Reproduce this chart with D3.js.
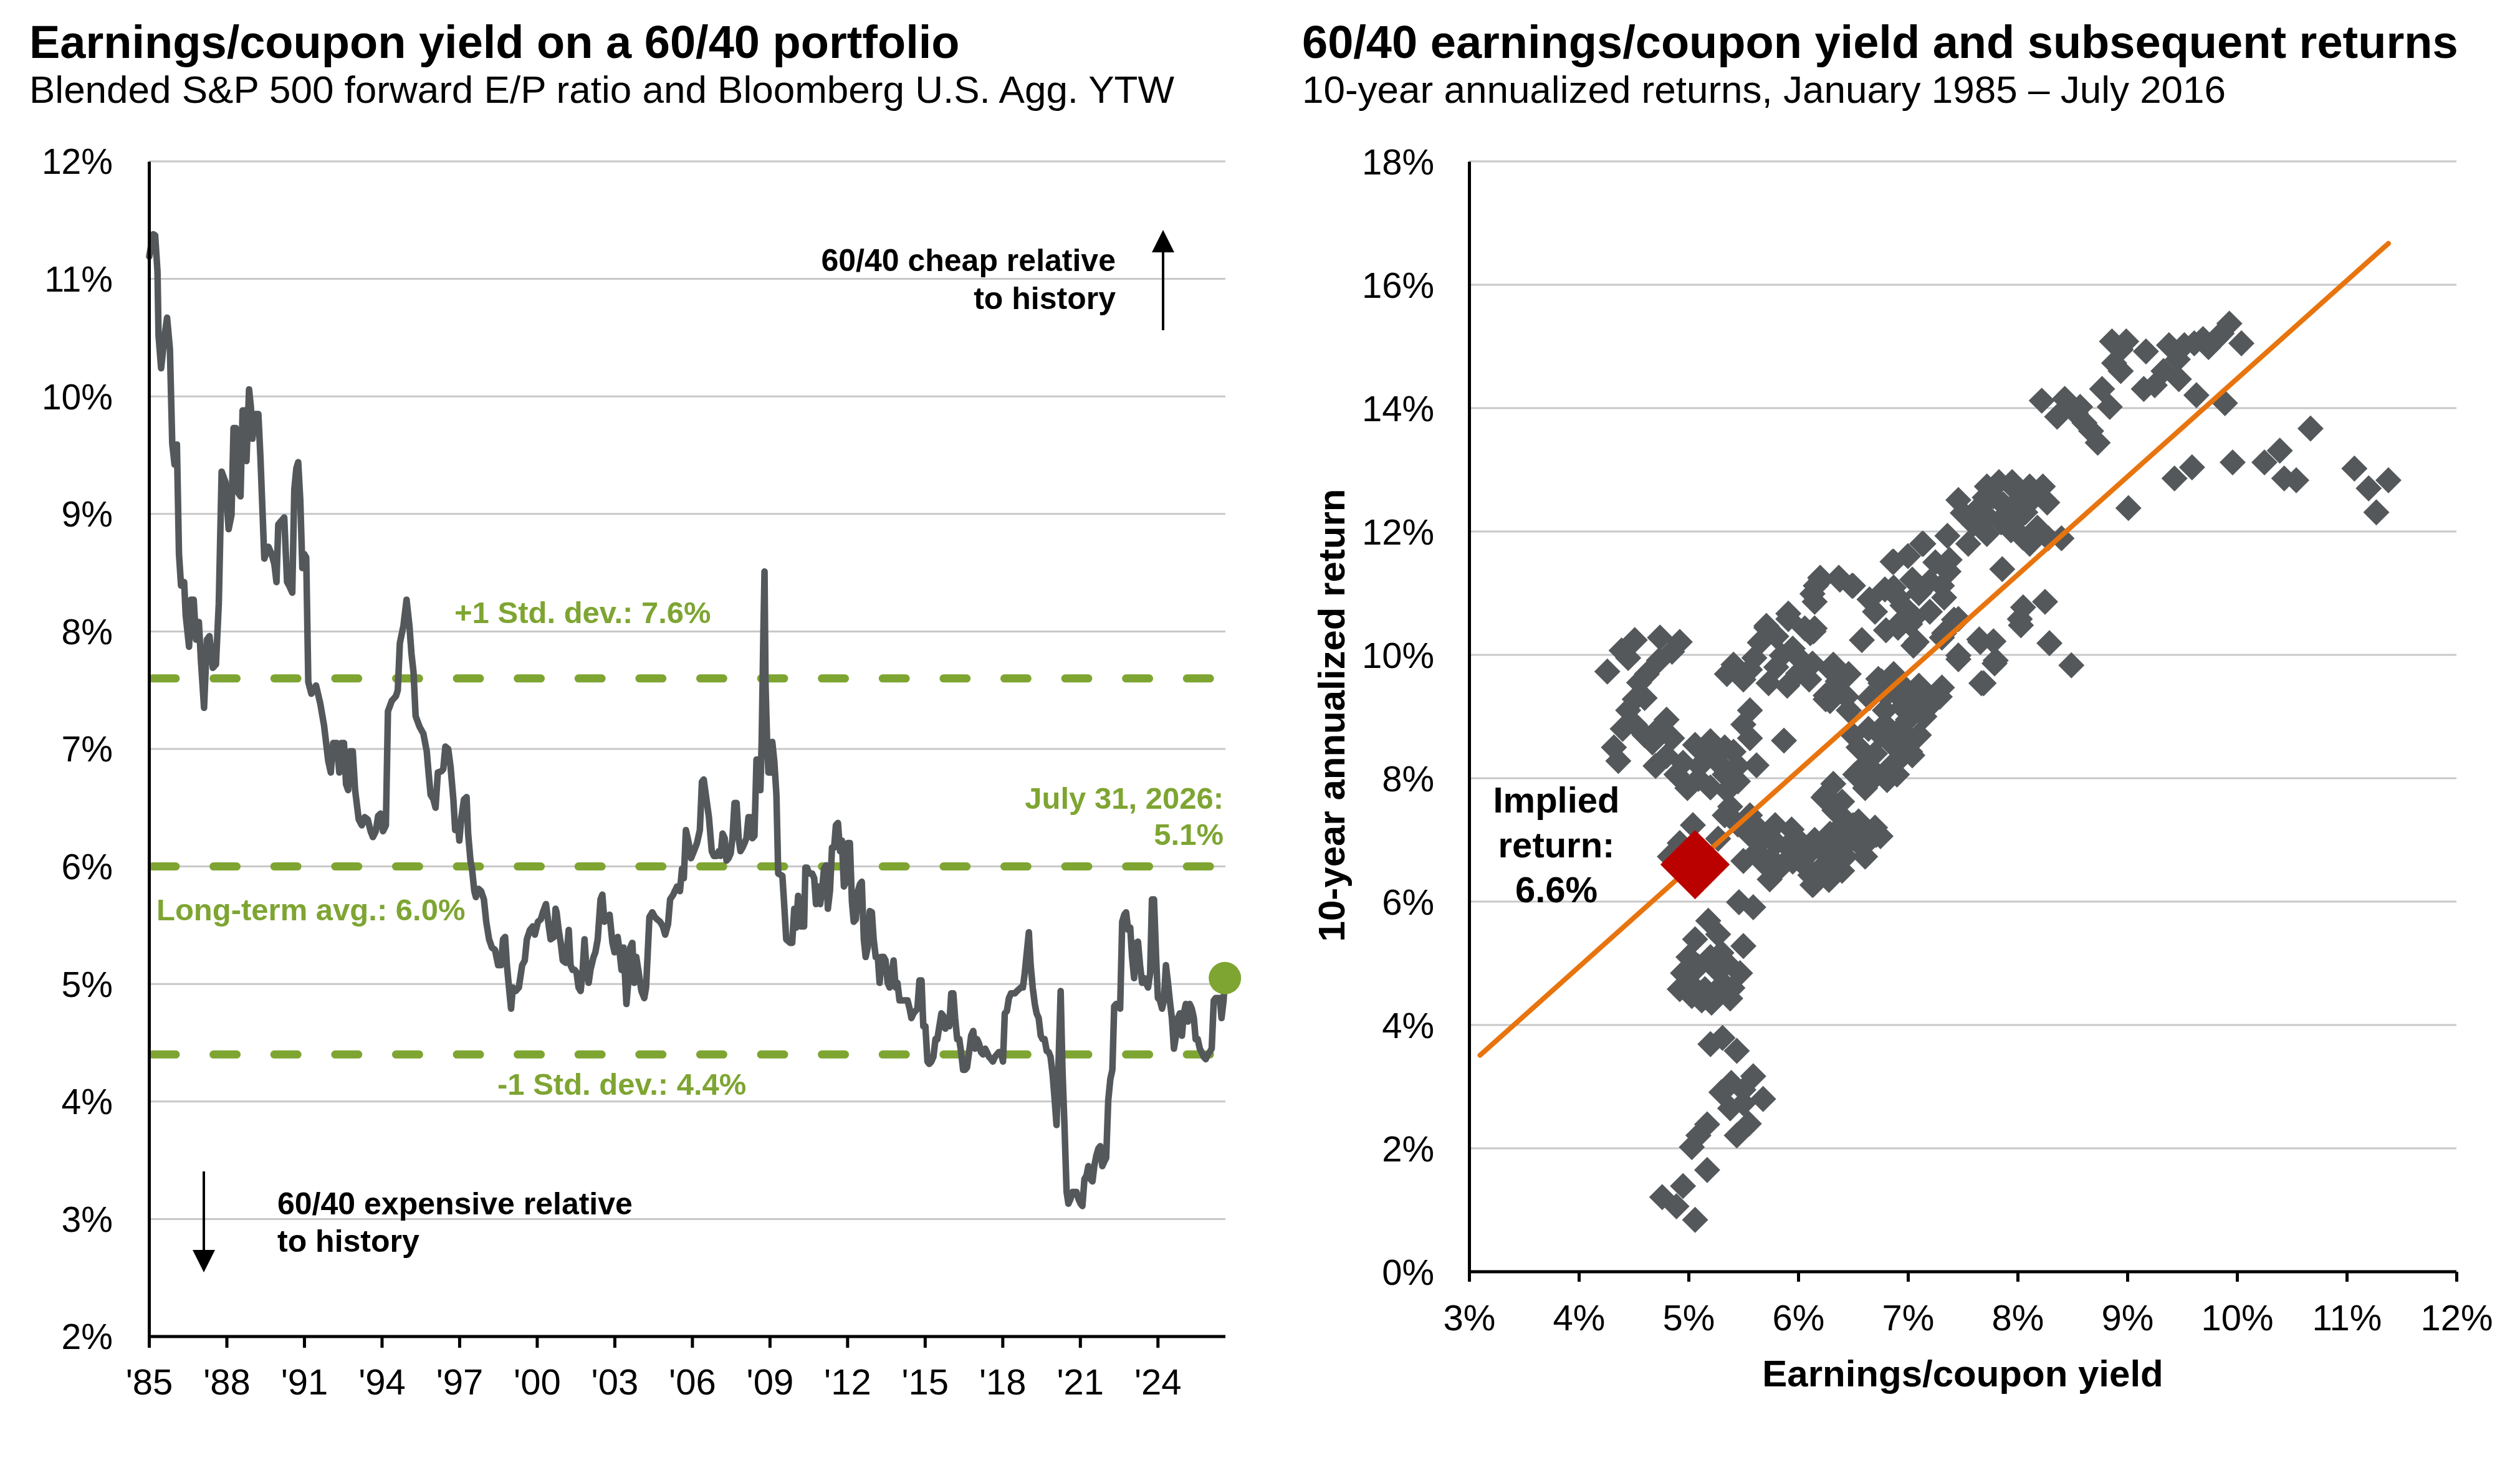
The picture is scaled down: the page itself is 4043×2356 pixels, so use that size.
<!DOCTYPE html>
<html><head><meta charset="utf-8">
<script src="https://cdn.jsdelivr.net/npm/d3@7"></script>
<style>
html,body{margin:0;padding:0;background:#fff;}
svg{display:block;}
text{font-family:"Liberation Sans",Arial,Helvetica,sans-serif;}
</style></head><body>
<svg id="chart" width="4043" height="2356"></svg>
<script>
// ---------------- DATA ----------------
const leftTitle = "Earnings/coupon yield on a 60/40 portfolio";
const leftSubtitle = "Blended S&P 500 forward E/P ratio and Bloomberg U.S. Agg. YTW";
const rightTitle = "60/40 earnings/coupon yield and subsequent returns";
const rightSubtitle = "10-year annualized returns, January 1985 \u2013 July 2016";

const leftYTicks = [2,3,4,5,6,7,8,9,10,11,12];
const leftXTicks = [1985,1988,1991,1994,1997,2000,2003,2006,2009,2012,2015,2018,2021,2024];
const rightXTicks = [3,4,5,6,7,8,9,10,11,12];
const rightYTicks = [0,2,4,6,8,10,12,14,16,18];

const bandValues = [7.6, 6.0, 4.4];
const bandLabels = ["+1 Std. dev.: 7.6%", "Long-term avg.: 6.0%", "-1 Std. dev.: 4.4%"];
const latestPoint = [2026.6, 5.05];
const latestLabel = ["July 31, 2026:", "5.1%"];

// [decimal year, earnings/coupon yield %]
const yieldSeries = [
[1985.01,11.19],[1985.16,11.38],[1985.24,11.37],[1985.33,11.06],[1985.37,10.52],[1985.47,10.24],[1985.59,10.49],[1985.70,10.67],[1985.81,10.40],[1985.90,9.60],[1985.99,9.42],[1986.08,9.59],[1986.16,8.66],[1986.24,8.39],[1986.36,8.42],[1986.42,8.14],[1986.55,7.87],[1986.62,8.27],[1986.73,8.27],[1986.82,7.93],[1986.93,8.08],[1987.01,7.75],[1987.13,7.35],[1987.24,7.93],[1987.34,7.96],[1987.47,7.69],[1987.59,7.72],[1987.70,8.24],[1987.81,9.36],[1987.96,9.27],[1988.08,8.87],[1988.19,8.99],[1988.27,9.73],[1988.36,9.73],[1988.45,9.18],[1988.54,9.15],[1988.62,9.88],[1988.70,9.88],[1988.77,9.45],[1988.87,10.06],[1988.94,9.91],[1989.00,9.64],[1989.10,9.85],[1989.23,9.85],[1989.31,9.48],[1989.46,8.62],[1989.62,8.72],[1989.74,8.66],[1989.85,8.57],[1989.93,8.42],[1990.00,8.91],[1990.11,8.94],[1990.23,8.97],[1990.34,8.42],[1990.42,8.39],[1990.54,8.33],[1990.62,9.21],[1990.70,9.39],[1990.77,9.44],[1990.85,9.12],[1990.93,8.54],[1991.00,8.66],[1991.08,8.63],[1991.16,7.57],[1991.28,7.47],[1991.46,7.54],[1991.62,7.39],[1991.77,7.20],[1991.93,6.90],[1992.03,6.80],[1992.12,7.05],[1992.26,7.05],[1992.36,6.80],[1992.44,7.05],[1992.54,7.05],[1992.62,6.70],[1992.70,6.65],[1992.77,6.98],[1992.88,6.98],[1992.97,6.65],[1993.11,6.40],[1993.23,6.35],[1993.34,6.42],[1993.46,6.40],[1993.57,6.30],[1993.66,6.25],[1993.77,6.30],[1993.86,6.43],[1993.96,6.45],[1994.05,6.30],[1994.16,6.35],[1994.24,7.32],[1994.39,7.41],[1994.55,7.45],[1994.62,7.50],[1994.70,7.90],[1994.84,8.05],[1994.96,8.27],[1995.07,8.05],[1995.15,7.81],[1995.23,7.65],[1995.31,7.28],[1995.46,7.19],[1995.61,7.13],[1995.74,6.98],[1995.81,6.80],[1995.89,6.61],[1996.00,6.57],[1996.08,6.50],[1996.17,6.80],[1996.31,6.81],[1996.38,6.83],[1996.46,7.02],[1996.57,7.00],[1996.66,6.85],[1996.77,6.57],[1996.84,6.31],[1996.97,6.31],[1997.00,6.22],[1997.08,6.42],[1997.18,6.57],[1997.28,6.59],[1997.34,6.28],[1997.43,6.05],[1997.49,5.98],[1997.58,5.79],[1997.64,5.74],[1997.74,5.81],[1997.84,5.79],[1997.95,5.72],[1998.04,5.53],[1998.15,5.38],[1998.26,5.31],[1998.38,5.29],[1998.50,5.16],[1998.61,5.16],[1998.69,5.38],[1998.77,5.40],[1998.84,5.16],[1998.92,4.97],[1999.00,4.79],[1999.07,4.97],[1999.18,4.94],[1999.30,4.97],[1999.43,5.16],[1999.53,5.20],[1999.61,5.38],[1999.73,5.46],[1999.84,5.49],[1999.92,5.42],[2000.04,5.53],[2000.15,5.55],[2000.23,5.61],[2000.35,5.68],[2000.46,5.49],[2000.53,5.38],[2000.66,5.40],[2000.72,5.64],[2000.76,5.61],[2000.84,5.46],[2000.92,5.35],[2001.00,5.20],[2001.12,5.18],[2001.23,5.46],[2001.30,5.16],[2001.38,5.12],[2001.46,5.12],[2001.53,5.10],[2001.61,4.97],[2001.69,4.94],[2001.76,5.09],[2001.84,5.38],[2001.92,5.12],[2002.00,5.01],[2002.07,5.12],[2002.19,5.23],[2002.26,5.27],[2002.35,5.38],[2002.46,5.72],[2002.53,5.76],[2002.61,5.53],[2002.72,5.57],[2002.81,5.59],[2002.92,5.35],[2003.00,5.27],[2003.12,5.40],[2003.18,5.31],[2003.27,5.12],[2003.35,5.31],[2003.46,4.83],[2003.53,5.01],[2003.61,5.31],[2003.69,5.35],[2003.76,5.01],[2003.84,5.23],[2003.92,5.12],[2004.04,4.94],[2004.15,4.88],[2004.22,4.97],[2004.35,5.57],[2004.46,5.61],[2004.56,5.57],[2004.65,5.55],[2004.76,5.53],[2004.87,5.49],[2004.96,5.42],[2005.07,5.51],[2005.15,5.72],[2005.27,5.76],[2005.33,5.79],[2005.42,5.83],[2005.53,5.79],[2005.61,5.98],[2005.68,5.90],[2005.76,6.31],[2005.87,6.20],[2005.96,6.07],[2006.07,6.13],[2006.19,6.20],[2006.30,6.31],[2006.38,6.72],[2006.45,6.74],[2006.53,6.61],[2006.65,6.42],[2006.76,6.13],[2006.84,6.09],[2006.95,6.09],[2007.03,6.13],[2007.10,6.09],[2007.18,6.28],[2007.26,6.24],[2007.33,6.05],[2007.41,6.07],[2007.49,6.11],[2007.56,6.24],[2007.64,6.54],[2007.72,6.54],[2007.80,6.24],[2007.87,6.13],[2007.95,6.16],[2008.03,6.20],[2008.10,6.24],[2008.18,6.42],[2008.26,6.42],[2008.33,6.24],[2008.41,6.26],[2008.49,6.91],[2008.56,6.91],[2008.64,6.65],[2008.69,7.06],[2008.75,7.90],[2008.80,8.51],[2008.84,7.54],[2008.90,7.06],[2008.95,6.80],[2009.06,6.80],[2009.10,7.06],[2009.18,6.89],[2009.26,6.61],[2009.33,5.94],[2009.49,5.92],[2009.56,5.68],[2009.64,5.38],[2009.79,5.35],[2009.87,5.35],[2009.95,5.64],[2010.02,5.48],[2010.10,5.75],[2010.18,5.49],[2010.33,5.49],[2010.38,5.99],[2010.44,5.99],[2010.53,5.94],[2010.64,5.94],[2010.72,5.90],[2010.79,5.68],[2010.87,5.83],[2010.95,5.68],[2011.02,5.79],[2011.10,5.98],[2011.18,6.01],[2011.25,5.64],[2011.33,5.79],[2011.41,6.16],[2011.49,6.16],[2011.56,6.35],[2011.64,6.37],[2011.72,6.13],[2011.79,6.22],[2011.87,5.83],[2011.95,5.87],[2012.02,6.20],[2012.10,6.20],[2012.18,5.70],[2012.25,5.53],[2012.33,5.55],[2012.41,5.79],[2012.49,5.85],[2012.56,5.87],[2012.64,5.38],[2012.71,5.23],[2012.79,5.31],[2012.87,5.62],[2012.95,5.61],[2013.02,5.38],[2013.10,5.23],[2013.18,5.23],[2013.25,5.01],[2013.33,5.23],[2013.41,5.23],[2013.48,5.20],[2013.56,5.01],[2013.64,4.97],[2013.79,5.20],[2013.87,4.97],[2013.94,5.01],[2014.02,4.86],[2014.18,4.86],[2014.33,4.86],[2014.41,4.79],[2014.48,4.71],[2014.56,4.75],[2014.71,4.79],[2014.79,5.03],[2014.87,5.03],[2014.94,4.64],[2015.02,4.64],[2015.10,4.34],[2015.17,4.32],[2015.25,4.34],[2015.33,4.38],[2015.41,4.53],[2015.48,4.53],[2015.64,4.75],[2015.71,4.73],[2015.79,4.62],[2015.87,4.71],[2015.94,4.64],[2016.02,4.92],[2016.10,4.92],[2016.17,4.71],[2016.25,4.53],[2016.33,4.53],[2016.40,4.42],[2016.48,4.27],[2016.56,4.27],[2016.63,4.29],[2016.71,4.42],[2016.79,4.56],[2016.87,4.60],[2016.94,4.45],[2017.02,4.53],[2017.10,4.49],[2017.17,4.42],[2017.25,4.40],[2017.33,4.45],[2017.40,4.42],[2017.48,4.38],[2017.56,4.36],[2017.63,4.34],[2017.71,4.38],[2017.86,4.42],[2017.94,4.42],[2018.02,4.34],[2018.09,4.75],[2018.17,4.77],[2018.25,4.88],[2018.33,4.92],[2018.48,4.92],[2018.56,4.94],[2018.71,4.97],[2018.79,4.97],[2018.86,5.09],[2019.02,5.44],[2019.09,5.16],[2019.17,4.97],[2019.25,4.83],[2019.32,4.75],[2019.40,4.71],[2019.48,4.56],[2019.55,4.53],[2019.63,4.53],[2019.71,4.43],[2019.79,4.42],[2019.86,4.38],[2019.94,4.23],[2020.02,4.01],[2020.09,3.80],[2020.17,4.34],[2020.25,4.94],[2020.32,4.27],[2020.40,3.78],[2020.48,3.23],[2020.55,3.13],[2020.63,3.17],[2020.71,3.23],[2020.86,3.23],[2020.94,3.17],[2021.02,3.13],[2021.09,3.11],[2021.17,3.34],[2021.25,3.37],[2021.32,3.45],[2021.40,3.34],[2021.48,3.32],[2021.55,3.45],[2021.63,3.54],[2021.71,3.60],[2021.78,3.62],[2021.86,3.45],[2021.94,3.49],[2022.01,3.52],[2022.09,4.01],[2022.17,4.19],[2022.25,4.27],[2022.32,4.81],[2022.40,4.83],[2022.48,4.81],[2022.55,4.79],[2022.63,5.53],[2022.71,5.59],[2022.78,5.61],[2022.86,5.46],[2022.94,5.48],[2023.01,5.23],[2023.09,5.05],[2023.17,5.35],[2023.24,5.36],[2023.32,5.16],[2023.40,5.01],[2023.48,5.05],[2023.55,5.01],[2023.63,4.97],[2023.71,5.09],[2023.78,5.72],[2023.86,5.72],[2023.94,5.23],[2024.01,4.88],[2024.09,4.86],[2024.17,4.79],[2024.24,4.86],[2024.32,5.16],[2024.40,5.01],[2024.47,4.86],[2024.55,4.71],[2024.63,4.45],[2024.71,4.56],[2024.78,4.71],[2024.86,4.75],[2024.94,4.56],[2025.01,4.75],[2025.09,4.83],[2025.17,4.68],[2025.24,4.83],[2025.32,4.79],[2025.40,4.71],[2025.47,4.53],[2025.55,4.53],[2025.63,4.45],[2025.70,4.42],[2025.78,4.38],[2025.86,4.36],[2025.94,4.40],[2026.01,4.42],[2026.09,4.45],[2026.17,4.86],[2026.24,4.88],[2026.40,4.88],[2026.47,4.71],[2026.55,4.86],[2026.60,5.05]
];

// [earnings/coupon yield %, subsequent 10-yr annualized return %]
const scatterPoints = [
[5.06,0.84],[4.76,1.21],[4.95,1.39],[4.89,1.06],[5.17,1.65],[5.03,2.02],[5.09,2.21],[5.17,2.39],[5.20,3.69],[5.31,3.79],[5.44,3.58],[5.44,2.21],[5.30,2.91],[5.39,3.06],[5.50,2.95],[5.59,3.17],[5.68,2.80],[5.38,2.65],[5.50,2.73],[5.55,2.40],
[4.92,4.58],[5.03,4.47],[5.21,4.36],[5.38,4.43],[4.95,4.84],[5.09,4.95],[5.27,4.87],[5.47,4.84],[5.50,5.28],[5.06,5.39],[5.18,5.69],[5.27,5.47],[5.30,5.17],[5.46,5.99],[5.59,5.91],[5.15,4.58],[5.33,4.65],[5.12,4.40],[5.40,4.60],
[5.00,5.10],[5.20,5.10],[5.35,5.00],[5.00,4.70],[5.25,4.55],
[4.83,6.73],[4.92,6.95],[5.04,7.24],[5.27,7.02],[5.38,7.54],[5.33,7.40],[5.56,7.40],[5.50,6.66],[5.62,6.80],[5.74,6.36],[5.79,7.24],[5.68,7.02],[5.85,6.58],[6.03,6.87],[6.11,6.43],[6.14,6.28],[6.23,6.58],[6.29,7.10],[6.32,7.91],[6.23,7.69],[6.40,7.62],[6.43,7.32],[6.55,6.95],[6.61,7.17],[6.75,7.06],[6.43,6.73],[6.61,6.73],[6.32,6.58],[5.94,7.17],[5.90,6.90],[6.05,6.60],[6.20,6.90],[5.70,6.60],[6.50,7.10],
[5.55,7.10],[5.65,6.95],[5.75,6.70],[5.80,6.95],[5.95,6.65],[6.00,7.00],[6.08,6.75],[6.15,7.00],[6.25,6.80],[6.35,6.85],[6.40,6.50],[6.18,6.40],[6.28,6.35],[6.45,6.95],[6.55,7.30],[6.65,7.00],[6.70,7.20],[6.38,7.20],[5.60,7.25],[5.45,7.25],
[4.26,9.73],[4.39,10.07],[4.51,10.24],[4.74,10.28],[4.92,10.21],[4.62,9.69],[4.73,9.91],[4.51,9.28],[4.51,8.87],[4.80,8.95],[4.32,8.50],[4.36,8.28],[4.67,8.58],[4.80,8.36],[4.89,8.06],[4.99,7.84],[5.09,7.99],[5.24,8.36],[5.33,8.50],[5.41,8.43],[5.06,8.54],[5.15,8.43],[5.33,8.06],[5.62,8.21],[5.56,8.65],[5.87,8.61],[5.56,9.10],[5.50,8.87],[5.41,9.84],[5.35,9.69],[5.56,9.76],[5.71,10.47],[5.73,9.54],[5.85,9.99],[6.03,9.91],[5.91,10.58],[6.06,10.43],[6.15,10.43],[4.60,8.70],[4.70,8.20],[5.20,7.85],[5.45,8.20],[5.71,10.44],[5.91,10.67],
[4.45,9.95],[4.55,9.55],[4.45,9.10],[4.60,9.30],[4.70,8.75],[4.85,8.65],[4.95,8.25],[4.40,8.80],[4.85,10.05],
[5.20,8.60],[5.30,8.20],[5.45,7.95],[5.10,8.20],[5.35,7.80],
[5.60,9.95],[5.65,10.20],[5.80,10.30],[5.95,10.10],[6.00,9.70],[5.90,9.50],[5.80,9.80],[6.10,9.60],[5.50,9.60],
[6.32,9.84],[6.40,9.39],[6.29,9.25],[6.46,9.69],[6.58,10.24],[6.75,9.54],[6.87,9.69],[7.08,9.32],[7.22,9.25],[7.31,9.47],[6.55,8.50],[6.64,8.80],[6.79,9.10],[6.93,8.80],[7.02,8.43],[6.72,8.06],[6.52,8.06],[6.84,8.58],[6.90,8.06],[6.61,7.84],[7.46,10.58],[7.31,10.28],[7.08,10.21],[7.02,10.50],[7.46,9.99],[7.66,10.21],[7.80,9.91],[7.69,9.54],[8.02,10.58],
[6.60,8.20],[6.70,8.40],[6.75,8.70],[6.85,8.20],[6.95,8.60],[7.00,8.95],[7.10,8.70],[7.15,9.00],[6.65,9.30],[6.80,9.35],[6.95,9.15],[7.10,9.50],
[6.16,11.12],[6.20,11.25],[6.38,11.22],[6.49,11.12],[6.14,10.38],[6.29,9.77],[6.36,9.57],[6.25,9.28],[6.87,11.51],[6.87,11.09],[7.14,11.80],[6.94,10.54],[7.05,10.15],[6.76,9.57],[6.98,9.45],[7.01,9.12],
[6.70,10.70],[6.80,10.40],[6.95,10.80],[7.10,11.00],[7.20,10.70],[7.25,11.50],[7.00,11.60],[6.65,10.90],
[6.25,9.34],[6.46,9.10],[6.91,9.34],[7.20,9.18],[6.50,8.70],[6.58,8.45],[6.83,8.74],[6.91,8.29],[6.81,7.97],[7.04,8.37],[6.25,7.73],[6.33,7.48],[6.50,7.24],[6.71,7.08],[6.21,6.84],[6.13,6.27],[6.29,6.51],
[7.46,12.51],[7.72,12.73],[7.83,12.80],[7.97,12.70],[8.11,12.73],[8.23,12.73],[8.27,12.47],[7.78,12.57],[7.66,12.41],[7.72,12.25],[7.87,12.44],[7.91,12.31],[8.01,12.51],[8.07,12.31],[7.60,12.12],[7.72,11.96],[7.94,12.02],[8.18,12.06],[8.11,11.80],[8.28,11.89],[8.40,11.89],[7.13,11.80],[7.36,11.93],[7.38,11.54],[6.86,11.51],[7.86,11.39],[7.37,11.35],[7.31,11.12],[6.79,11.06],[7.04,11.22],[7.20,11.19],[6.50,11.12],[6.37,11.25],[6.21,11.22],[6.13,10.99],[6.91,10.93],[6.98,10.61],[6.91,10.44],[7.06,10.61],[7.33,10.93],[7.42,10.57],[8.05,10.77],[8.25,10.86],[8.03,10.48],[7.33,10.35],[7.46,9.93],[7.65,10.25],[7.78,10.22],[7.79,9.86],[8.29,10.19],[8.49,9.83],[7.67,9.54],[6.73,9.61],[6.85,9.45],[6.97,9.41],[7.16,9.32],[7.29,9.32],[6.37,9.70],[6.33,9.45],[6.44,9.32],[6.13,9.86],[6.11,10.35],[6.15,10.86],[6.79,8.87],
[7.50,12.30],[7.55,11.80],[7.70,12.55],[7.85,12.15],[8.00,12.20],[8.15,12.55],[7.95,12.80],[8.05,11.90],
[8.22,14.12],[8.36,13.86],[8.43,14.15],[8.53,13.92],[8.57,14.02],[8.61,13.76],[8.67,13.63],[8.73,13.44],[8.77,14.31],[8.84,14.02],[8.88,14.73],[8.94,14.60],[8.86,15.08],[8.99,15.08],[8.94,14.95],[9.17,14.92],[9.15,14.31],[9.25,14.37],[9.33,14.60],[9.38,15.02],[9.46,14.79],[9.47,14.47],[9.52,15.02],[9.61,15.05],[9.63,14.21],[9.69,15.12],[9.74,14.99],[9.81,15.12],[9.86,15.21],[9.93,15.37],[10.04,15.05],[9.89,14.08],[10.67,13.67],[9.43,12.86],[9.59,13.04],[9.96,13.12],[10.25,13.12],[10.39,13.31],[10.43,12.86],[10.54,12.83],[11.07,13.02],[11.20,12.70],[11.38,12.83],[11.27,12.31],[9.01,12.38]
];

const impliedPoint = [5.06, 6.6];
const impliedLabel = ["Implied", "return:", "6.6%"];
const trendLine = [[3.1, 3.51], [11.38, 16.67]];

// ---------------- STYLE ----------------
const GRAY = "#54585a", GREEN = "#7ea532", ORANGE = "#e8740e", RED = "#bb0000", GRID = "#c8c8c8";
const svg = d3.select("#chart");
svg.append("rect").attr("width",4043).attr("height",2356).attr("fill","#fff");

function titleBlock(x, t, s){
  svg.append("text").attr("x",x).attr("y",93).attr("font-size",74).attr("font-weight","bold").attr("fill","#000").text(t);
  svg.append("text").attr("x",x).attr("y",165).attr("font-size",62).attr("fill","#000").text(s);
}
titleBlock(47, leftTitle, leftSubtitle);
titleBlock(2089, rightTitle, rightSubtitle);

// ---------------- LEFT CHART ----------------
const xL = d3.scaleLinear().domain([1985, 2026.62]).range([239, 1966]);
const yL = d3.scaleLinear().domain([2, 12]).range([2145, 259]);
const gL = svg.append("g");

gL.selectAll("line.grid").data(leftYTicks.filter(v=>v>2)).join("line")
  .attr("x1", xL.range()[0]).attr("x2", xL.range()[1])
  .attr("y1", d=>yL(d)).attr("y2", d=>yL(d))
  .attr("stroke", GRID).attr("stroke-width", 3);

// std dev / average dashed lines
gL.selectAll("line.band").data(bandValues).join("line")
  .attr("x1", xL.range()[0]+6).attr("x2", xL.range()[1])
  .attr("y1", d=>yL(d)).attr("y2", d=>yL(d))
  .attr("stroke", GREEN).attr("stroke-width", 13)
  .attr("stroke-linecap","round").attr("stroke-dasharray","37 60.6");

// series line
gL.append("path").datum(yieldSeries)
  .attr("d", d3.line().x(d=>xL(d[0])).y(d=>yL(d[1])))
  .attr("fill","none").attr("stroke",GRAY).attr("stroke-width",10.5)
  .attr("stroke-linejoin","round").attr("stroke-linecap","round");

gL.append("circle").attr("cx", xL(latestPoint[0])).attr("cy", yL(latestPoint[1])).attr("r", 26).attr("fill", GREEN);

// axes
const axL = gL.append("g").attr("transform",`translate(0,${yL(2)})`)
  .call(d3.axisBottom(xL).tickValues(leftXTicks).tickSize(18).tickSizeOuter(0).tickPadding(34)
    .tickFormat(d=>"'"+String(d).slice(2)));
const ayL = gL.append("g").attr("transform",`translate(${xL(1985)},0)`)
  .call(d3.axisLeft(yL).tickValues(leftYTicks).tickSize(0).tickSizeOuter(0).tickPadding(58).tickFormat(d=>d+"%"));

function styleAxis(a, fs){
  a.select(".domain").attr("stroke","#000").attr("stroke-width",5);
  a.selectAll(".tick line").attr("stroke","#000").attr("stroke-width",5);
  a.selectAll(".tick text").attr("font-size",fs).attr("fill","#000")
    .attr("font-family","'Liberation Sans',Arial,sans-serif");
}
styleAxis(axL, 58); styleAxis(ayL, 57);
ayL.selectAll(".tick text").attr("dy","0.35em");
axL.select(".domain").attr("d", `M${xL.range()[0]},0H${xL.range()[1]}`);

// band labels
const bandPos = [[729,1000,"start"],[251,1477,"start"],[798,1757,"start"]];
bandLabels.forEach((t,i)=>{
  gL.append("text").attr("x",bandPos[i][0]).attr("y",bandPos[i][1]).attr("text-anchor",bandPos[i][2])
    .attr("font-size",49).attr("font-weight","bold").attr("fill",GREEN).text(t);
});
gL.append("text").attr("x",1963).attr("y",1298).attr("text-anchor","end").attr("font-size",49).attr("font-weight","bold").attr("fill",GREEN).text(latestLabel[0]);
gL.append("text").attr("x",1963).attr("y",1356).attr("text-anchor","end").attr("font-size",49).attr("font-weight","bold").attr("fill",GREEN).text(latestLabel[1]);

// cheap / expensive annotations
gL.append("text").attr("x",1790).attr("y",435).attr("text-anchor","end").attr("font-size",50).attr("font-weight","bold").text("60/40 cheap relative");
gL.append("text").attr("x",1790).attr("y",496).attr("text-anchor","end").attr("font-size",50).attr("font-weight","bold").text("to history");
gL.append("text").attr("x",445).attr("y",1949).attr("font-size",50).attr("font-weight","bold").text("60/40 expensive relative");
gL.append("text").attr("x",445).attr("y",2009).attr("font-size",50).attr("font-weight","bold").text("to history");

function arrow(x, yFrom, yTip){
  const dir = yTip < yFrom ? 1 : -1;
  gL.append("line").attr("x1",x).attr("x2",x).attr("y1",yFrom).attr("y2",yTip+dir*30).attr("stroke","#000").attr("stroke-width",4);
  gL.append("path").attr("d",`M${x},${yTip} L${x-18},${yTip+dir*36} L${x+18},${yTip+dir*36} Z`).attr("fill","#000");
}
arrow(1866, 530, 369);
arrow(327, 1880, 2042);

// ---------------- RIGHT CHART ----------------
const xR = d3.scaleLinear().domain([3, 12]).range([2357, 3941]);
const yR = d3.scaleLinear().domain([0, 18]).range([2041, 259]);
const gR = svg.append("g");

gR.selectAll("line.grid").data(rightYTicks.filter(v=>v>0)).join("line")
  .attr("x1", xR.range()[0]).attr("x2", xR.range()[1])
  .attr("y1", d=>yR(d)).attr("y2", d=>yR(d))
  .attr("stroke", GRID).attr("stroke-width", 3);

const diamond = d3.symbol().type(d3.symbolSquare).size(880);
gR.selectAll("path.pt").data(scatterPoints).join("path")
  .attr("d", diamond)
  .attr("transform", d=>`translate(${xR(d[0])},${yR(d[1])}) rotate(45)`)
  .attr("fill", GRAY);

gR.append("path").datum(trendLine)
  .attr("d", d3.line().x(d=>xR(d[0])).y(d=>yR(d[1])))
  .attr("stroke", ORANGE).attr("stroke-width", 8).attr("stroke-linecap","round").attr("fill","none");

gR.append("path").attr("d", d3.symbol().type(d3.symbolSquare).size(6200))
  .attr("transform", `translate(${xR(impliedPoint[0])},${yR(impliedPoint[1])}) rotate(45)`)
  .attr("fill", RED);

impliedLabel.forEach((t,i)=>{
  gR.append("text").attr("x",2497).attr("y",1304+i*72).attr("text-anchor","middle")
    .attr("font-size",58).attr("font-weight","bold").attr("fill","#000").text(t);
});

const axR = gR.append("g").attr("transform",`translate(0,${yR(0)})`)
  .call(d3.axisBottom(xR).tickValues(rightXTicks).tickSize(16).tickSizeOuter(0).tickPadding(37).tickFormat(d=>d+"%"));
const ayR = gR.append("g").attr("transform",`translate(${xR(3)},0)`)
  .call(d3.axisLeft(yR).tickValues(rightYTicks).tickSize(0).tickSizeOuter(0).tickPadding(56).tickFormat(d=>d+"%"));
styleAxis(axR, 58); styleAxis(ayR, 58);
ayR.selectAll(".tick text").attr("dy","0.35em");
axR.select(".domain").attr("d", `M${xR.range()[0]},0H${xR.range()[1]}`);

gR.append("text").attr("x",(xR.range()[0]+xR.range()[1])/2).attr("y",2225).attr("text-anchor","middle")
  .attr("font-size",60).attr("font-weight","bold").text("Earnings/coupon yield");
gR.append("text").attr("transform","translate(2157,1148) rotate(-90)").attr("text-anchor","middle")
  .attr("font-size",60).attr("font-weight","bold").text("10-year annualized return");
</script>
</body></html>
